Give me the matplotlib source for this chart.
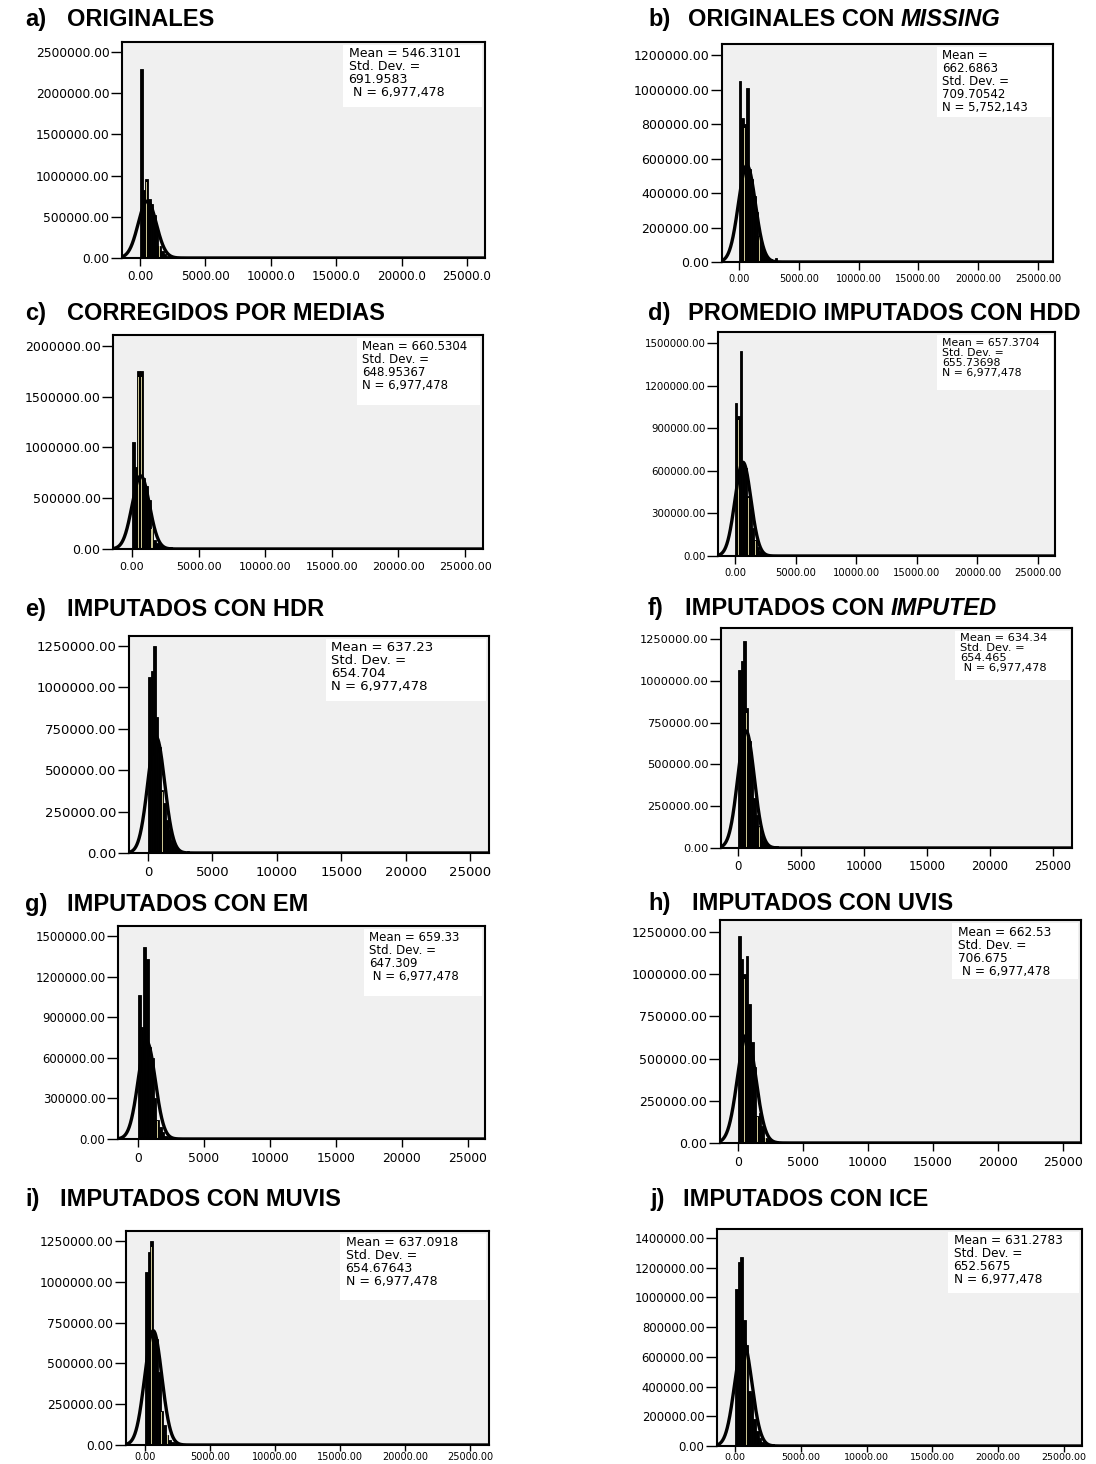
import numpy as np
import matplotlib
matplotlib.use("Agg")
import matplotlib.pyplot as plt
from matplotlib.patches import Rectangle

W, H = 1096, 1464
BIN = 200  # histogram bin width (units of the x axis)

# ---------------- data ----------------
labels = ["a)", "b)", "c)", "d)", "e)", "f)", "g)", "h)", "i)", "j)"]
titles = ["ORIGINALES", "ORIGINALES CON ", "CORREGIDOS POR MEDIAS",
          "PROMEDIO IMPUTADOS CON HDD", "IMPUTADOS CON HDR", "IMPUTADOS CON ",
          "IMPUTADOS CON EM", "IMPUTADOS CON UVIS", "IMPUTADOS CON MUVIS",
          "IMPUTADOS CON ICE"]
titles_italic = ["", "MISSING", "", "", "", "IMPUTED", "", "", "", ""]

stats = [
    "Mean = 546.3101\nStd. Dev. =\n691.9583\n N = 6,977,478",
    "Mean =\n662.6863\nStd. Dev. =\n709.70542\nN = 5,752,143",
    "Mean = 660.5304\nStd. Dev. =\n648.95367\nN = 6,977,478",
    "Mean = 657.3704\nStd. Dev. =\n655.73698\nN = 6,977,478",
    "Mean = 637.23\nStd. Dev. =\n654.704\nN = 6,977,478",
    "Mean = 634.34\nStd. Dev. =\n654.465\n N = 6,977,478",
    "Mean = 659.33\nStd. Dev. =\n647.309\n N = 6,977,478",
    "Mean = 662.53\nStd. Dev. =\n706.675\n N = 6,977,478",
    "Mean = 637.0918\nStd. Dev. =\n654.67643\nN = 6,977,478",
    "Mean = 631.2783\nStd. Dev. =\n652.5675\nN = 6,977,478",
]
means = [546.3101, 662.6863, 660.5304, 657.3704, 637.23, 634.34, 659.33, 662.53, 637.0918, 631.2783]
sds = [691.9583, 709.70542, 648.95367, 655.73698, 654.704, 654.465, 647.309, 706.675, 654.67643, 652.5675]
curve_peaks = [690000, 560000, 720000, 660000, 700000, 700000, 720000, 640000, 700000, 700000]

a_counts = [2290000, 820000, 955000, 720000, 650000, 520000, 380000, 150000, 90000, 50000, 25000, 12000, 6000, 4000, 3000]
b_counts = [1050000, 833000, 800000, 1010000, 540000, 480000, 380000, 290000, 150000, 90000, 60000, 35000, 20000, 15000, 10000, 25000, 5000]
c_counts = [1057000, 812000, 1750000, 1750000, 700000, 620000, 480000, 200000, 90000, 55000, 35000, 20000, 12000, 8000, 20000, 5000]
d_counts = [1076000, 987000, 1440000, 650000, 620000, 420000, 330000, 200000, 110000, 60000, 35000, 20000, 12000, 8000, 6000, 5000, 4000, 3000, 3000, 10000]
e_counts = [1060000, 1100000, 1250000, 820000, 640000, 380000, 300000, 200000, 140000, 80000, 45000, 25000, 12000, 6000, 4000, 15000]
f_counts = [1064000, 1120000, 1240000, 835000, 640000, 520000, 300000, 200000, 130000, 70000, 40000, 25000, 12000, 8000, 10000, 10000]
g_counts = [1067000, 830000, 1420000, 1330000, 680000, 600000, 300000, 140000, 90000, 50000, 25000, 15000, 8000, 5000, 10000]
h_counts = [1225000, 1090000, 1000000, 1106000, 825000, 600000, 450000, 160000, 180000, 100000, 30000, 25000, 15000, 10000, 8000, 6000, 5000, 4000, 3000, 3000, 3000]
i_counts = [1062000, 1180000, 1250000, 680000, 650000, 450000, 210000, 120000, 60000, 30000, 20000, 12000, 8000, 5000, 3000]
j_counts = [1056000, 1240000, 1270000, 850000, 680000, 370000, 360000, 180000, 100000, 55000, 25000, 15000, 10000, 8000, 12000, 5000]
counts = [a_counts, b_counts, c_counts, d_counts, e_counts, f_counts, g_counts, h_counts, i_counts, j_counts]

# bins whose fill colour shows through (khaki stripes)
khaki_bins = [[2, 7], [2, 8], [2, 3, 7], [1, 5, 8], [5], [3, 8], [7], [2, 7, 10], [2, 6, 8], [4]]

x_tick_values = [0, 5000, 10000, 15000, 20000, 25000]
xl_dec1 = ["0.00", "5000.00", "10000.0", "15000.0", "20000.0", "25000.0"]
xl_dec2 = ["0.00", "5000.00", "10000.00", "15000.00", "20000.00", "25000.00"]
xl_int = ["0", "5000", "10000", "15000", "20000", "25000"]
x_labels = [xl_dec1, xl_dec2, xl_dec2, xl_dec2, xl_int, xl_int, xl_int, xl_int, xl_dec2, xl_dec2]

y_ticks = [
    [0, 500000, 1000000, 1500000, 2000000, 2500000],
    [0, 200000, 400000, 600000, 800000, 1000000, 1200000],
    [0, 500000, 1000000, 1500000, 2000000],
    [0, 300000, 600000, 900000, 1200000, 1500000],
    [0, 250000, 500000, 750000, 1000000, 1250000],
    [0, 250000, 500000, 750000, 1000000, 1250000],
    [0, 300000, 600000, 900000, 1200000, 1500000],
    [0, 250000, 500000, 750000, 1000000, 1250000],
    [0, 250000, 500000, 750000, 1000000, 1250000],
    [0, 200000, 400000, 600000, 800000, 1000000, 1200000, 1400000],
]

# ---------------- layout (pixels of the 1096x1464 canvas) ----------------
axes_px = [(122, 42, 485, 258), (722, 44, 1053, 262),
           (113, 335, 483, 549), (718, 332, 1055, 556),
           (129, 636, 489, 853), (721, 628, 1072, 848),
           (118, 926, 485, 1139), (720, 920, 1081, 1143),
           (126, 1231, 489, 1445), (717, 1229, 1082, 1446)]
xlims = [(-1385, 26385), (-1421, 26254), (-1426, 26351), (-1403, 26400), (-1475, 26475),
         (-1350, 26500), (-1515, 26288), (-1385, 26385), (-1460, 26460), (-1368, 26368)]
ylim_top = [2621000, 1264000, 2108000, 1577000, 1310000, 1316000, 1574000, 1321000, 1311000, 1461000]
box_ll = [(0.609, 0.699), (0.650, 0.665), (0.659, 0.673), (0.650, 0.741), (0.547, 0.700),
          (0.667, 0.764), (0.670, 0.671), (0.643, 0.735), (0.590, 0.678), (0.633, 0.705)]
stat_fs = [9, 8.5, 8.5, 7.8, 9.5, 8.2, 8.5, 8.7, 9, 8.7]
ytick_fs = [8.8, 9.0, 9.0, 7.4, 9.5, 8.2, 8.4, 9.0, 8.8, 8.4]
xtick_fs = [8.6, 7.0, 8.0, 7.2, 9.5, 8.5, 8.8, 9.0, 7.0, 6.8]
xtick_len = [6, 6, 6, 6, 6, 6, 6, 6, 4, 4]
xtick_pad = [3, 3, 3, 3, 3, 3, 3, 3, 1, 1]
title_pos = [(25, 67, 26), (648, 688, 26), (25, 67, 320), (648, 688, 320), (25, 67, 616),
             (648, 685, 615), (25, 67, 911), (648, 692, 910), (25, 60, 1206), (650, 683, 1206)]

KHAKI = "#c9c391"
TITLE_FONT = dict(family="Liberation Sans", fontweight="bold", fontsize=17)

fig = plt.figure(figsize=(W / 100, H / 100), dpi=100)
fig.patch.set_facecolor("white")

for k in range(10):
    l, t, r, b = axes_px[k]
    ax = fig.add_axes([l / W, 1 - b / H, (r - l) / W, (b - t) / H])
    ax.set_facecolor("#f0f0f0")

    h = np.array(counts[k], dtype=float)
    edges = np.arange(len(h)) * BIN
    ax.bar(edges, h, width=BIN, align="edge", color="black",
           edgecolor="black", linewidth=0.6, zorder=2)
    kb = khaki_bins[k]
    ax.bar(edges[kb] + BIN * 0.3, h[kb] * 0.97, width=BIN * 0.4, align="edge",
           color=KHAKI, linewidth=0, zorder=2.5)

    xs = np.linspace(xlims[k][0], xlims[k][1], 3000)
    ys = curve_peaks[k] * np.exp(-0.5 * ((xs - means[k]) / sds[k]) ** 2)
    ax.plot(xs, ys, color="black", lw=2.4, zorder=3)

    ax.set_xlim(*xlims[k])
    ax.set_ylim(0, ylim_top[k])
    ax.set_xticks(x_tick_values)
    ax.set_xticklabels(x_labels[k], fontsize=xtick_fs[k])
    ax.set_yticks(y_ticks[k])
    ax.set_yticklabels([f"{v:.2f}" for v in y_ticks[k]], fontsize=ytick_fs[k])
    ax.tick_params(axis="y", direction="out", length=8, width=1, pad=1)
    ax.tick_params(axis="x", direction="out", length=xtick_len[k], width=1, pad=xtick_pad[k])
    for s in ax.spines.values():
        s.set_linewidth(1.5)
        s.set_color("black")

    bx, by = box_ll[k]
    ax.add_patch(Rectangle((bx, by), 0.993 - bx, 0.988 - by, transform=ax.transAxes,
                           facecolor="white", edgecolor="none", zorder=4))
    ax.text(bx + 0.015, 0.975, stats[k], transform=ax.transAxes, ha="left", va="top",
            fontsize=stat_fs[k], linespacing=1.0, zorder=5)

    lx, mx, base = title_pos[k]
    fig.text(lx / W, 1 - base / H, labels[k], ha="left", va="baseline", **TITLE_FONT)
    main = fig.text(mx / W, 1 - base / H, titles[k], ha="left", va="baseline", **TITLE_FONT)
    if titles_italic[k]:
        ax.annotate(titles_italic[k], xy=(1, 0), xycoords=main, xytext=(0, 0),
                    textcoords="offset points", ha="left", va="bottom",
                    fontstyle="italic", annotation_clip=False, **TITLE_FONT)

fig.savefig("out.png", dpi=100)
